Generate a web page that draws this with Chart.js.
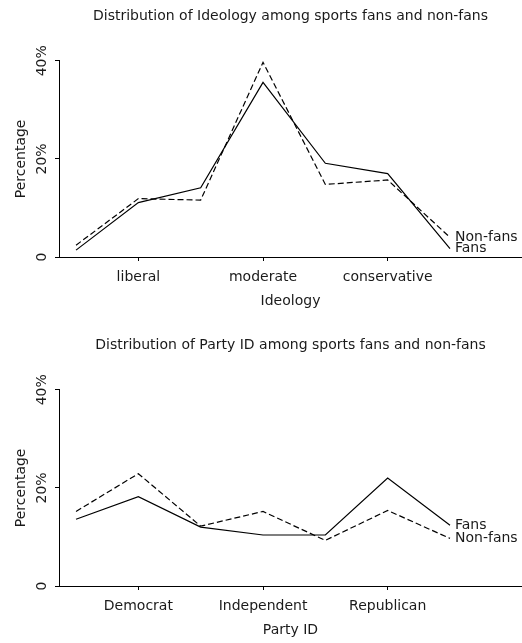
<!DOCTYPE html>
<html>
<head>
<meta charset="utf-8">
<script src="https://cdn.jsdelivr.net/npm/chart.js@4"></script>
<style>
  html, body { margin:0; padding:0; background:#fff; overflow:hidden; }
  canvas { position:absolute; left:0; }
</style>
</head>
<body>
<canvas id="ideology" width="522" height="320" style="top:0"></canvas>
<canvas id="party" width="522" height="320" style="top:329px"></canvas>
<script>
// 7-point scales, labels only on 2, 4, 6
const xPositions = [1, 2, 3, 4, 5, 6, 7];
const xTickValues = [2, 4, 6];
const ideologyTicks = ["liberal", "moderate", "conservative"];
const partyTicks = ["Democrat", "Independent", "Republican"];
const yTickValues = [0, 20, 40];
const yTickLabels = ["0", "20%", "40%"];

// percentages
const ideologyFans    = [1.4, 11.1, 14.1, 35.6, 19.1, 17.0, 1.7];
const ideologyNonFans = [2.4, 11.9, 11.6, 39.7, 14.8, 15.7, 4.0];
const partyFans       = [13.6, 18.2, 12.0, 10.4, 10.4, 22.0, 12.4];
const partyNonFans    = [15.2, 22.9, 12.2, 15.2, 9.3, 15.4, 9.7];

const FONT = "'DejaVu Sans', sans-serif";
const INK = "#1a1a1a";

function pts(vals){
    return vals.map((v, i) => ({x: xPositions[i], y: v}));
}

// rotated y tick labels (R style) and end-of-line series labels
const extras = {
    id: "extras",
    afterDraw(chart){
        const ctx = chart.ctx;
        const ys = chart.scales.y;
        ctx.save();
        ctx.fillStyle = INK;
        ctx.font = "14px " + FONT;
        ctx.textAlign = "center";
        ctx.textBaseline = "middle";
        yTickValues.forEach((v, i) => {
            ctx.save();
            ctx.translate(42, ys.getPixelForValue(v));
            ctx.rotate(-Math.PI / 2);
            ctx.fillText(yTickLabels[i], 0, 0);
            ctx.restore();
        });
        ctx.textAlign = "left";
        chart.data.datasets.forEach((ds, i) => {
            const meta = chart.getDatasetMeta(i);
            const last = meta.data[meta.data.length - 1];
            ctx.fillText(ds.label, last.x + 5, last.y);
        });
        ctx.restore();
    }
};

function drawChart(canvas, title, xTitle, tickNames, fans, nonFans){
    return new Chart(canvas, {
        type: "line",
        data: {
            datasets: [{
                label: "Fans", data: pts(fans),
                borderColor: "#000", borderWidth: 1.2, pointRadius: 0, tension: 0
            }, {
                label: "Non-fans", data: pts(nonFans),
                borderColor: "#000", borderWidth: 1.2, borderDash: [6, 3], pointRadius: 0, tension: 0
            }]
        },
        options: {
            responsive: false,
            animation: false,
            devicePixelRatio: 1,
            layout: { padding: 0 },
            plugins: {
                legend: { display: false },
                tooltip: { enabled: false },
                title: {
                    display: true,
                    fullSize: false,
                    text: title,
                    color: INK,
                    font: { family: FONT, size: 14, weight: "normal" },
                    padding: { top: 8, bottom: 36 }
                }
            },
            scales: {
                x: {
                    type: "linear",
                    min: 0.727,
                    max: 8.155,
                    afterBuildTicks: s => { s.ticks = xTickValues.map(v => ({value: v})); },
                    afterFit: s => { s.height = 63; },
                    ticks: {
                        color: INK,
                        font: { family: FONT, size: 14 },
                        padding: 8,
                        maxRotation: 0,
                        callback: v => tickNames[xTickValues.indexOf(v)]
                    },
                    grid: { drawOnChartArea: false, drawTicks: true, tickLength: 4, color: "#000" },
                    border: { display: true, color: "#000", width: 1 },
                    title: {
                        display: true, text: xTitle, color: INK,
                        font: { family: FONT, size: 14 },
                        padding: { top: 0, bottom: 10 }
                    }
                },
                y: {
                    min: 0,
                    max: 40,
                    afterBuildTicks: s => { s.ticks = yTickValues.map(v => ({value: v})); },
                    afterFit: s => { s.width = 59; },
                    ticks: { display: false },
                    grid: { drawOnChartArea: false, drawTicks: true, tickLength: 4, color: "#000" },
                    border: { display: true, color: "#000", width: 1 },
                    title: {
                        display: true, text: "Percentage", color: INK,
                        font: { family: FONT, size: 14 },
                        padding: { top: 13, bottom: 0 }
                    }
                }
            }
        },
        plugins: [extras]
    });
}

drawChart(document.getElementById("ideology"),
    "Distribution of Ideology among sports fans and non-fans", "Ideology",
    ideologyTicks, ideologyFans, ideologyNonFans);
drawChart(document.getElementById("party"),
    "Distribution of Party ID among sports fans and non-fans", "Party ID",
    partyTicks, partyFans, partyNonFans);
</script>
</body>
</html>
